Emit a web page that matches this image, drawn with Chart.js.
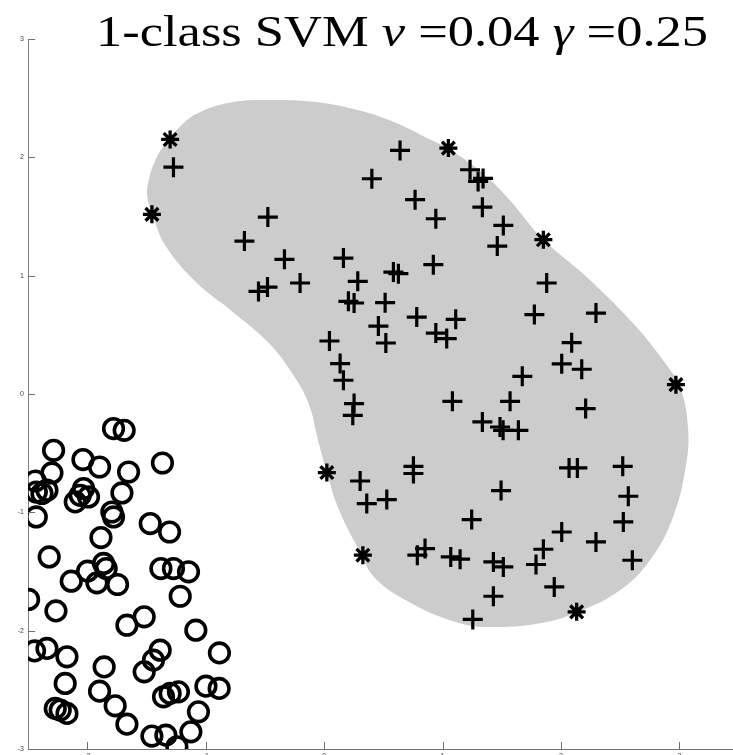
<!DOCTYPE html>
<html>
<head>
<meta charset="utf-8">
<script src="https://cdn.jsdelivr.net/npm/chart.js@4.4.1/dist/chart.umd.min.js"></script>
<style>
  html, body { margin: 0; padding: 0; background: #fff; overflow: hidden; }
  #wrap { position: relative; width: 733px; height: 755px; overflow: hidden; }
  #chart { position: absolute; left: 0; top: 0; }
  #title {
    position: absolute; left: 96px; top: 10px; white-space: nowrap;
    font: 44px/44px "Liberation Serif", "DejaVu Serif", serif; color: #000;
    transform-origin: 0 0;
  }
</style>
</head>
<body>
<div id="wrap">
  <canvas id="chart" width="733" height="770"></canvas>
  <div id="title">1-class SVM <i>ν</i> =0.04 <i>γ</i> =0.25</div>
</div>
<script>
const xTicks = [-2, -1, 0, 1, 2, 3];
const yTicks = [-3, -2, -1, 0, 1, 2, 3];

// training points inside the region (+)
const plusPoints = [
  [-1.272, 1.917], [0.641, 2.058], [0.403, 1.819], [0.768, 1.642], [-0.475, 1.495],
  [-0.673, 1.292], [-0.335, 1.138], [-0.554, 0.867], [-0.478, 0.904], [-0.203, 0.938],
  [0.163, 1.149], [0.284, 0.952], [0.205, 0.783], [0.253, 0.769], [0.585, 1.030],
  [0.627, 1.017], [0.515, 0.772], [0.458, 0.574], [0.521, 0.431], [0.045, 0.448],
  [0.135, 0.257], [0.782, 0.650], [1.232, 1.895], [1.300, 1.796], [1.342, 1.822],
  [1.336, 1.579], [1.513, 1.425], [1.462, 1.250], [0.943, 1.481], [0.922, 1.093],
  [1.879, 0.938], [1.775, 0.671], [2.295, 0.684], [2.090, 0.434], [2.006, 0.255],
  [2.175, 0.209], [1.111, 0.631], [0.943, 0.515], [1.035, 0.468], [1.673, 0.149],
  [0.163, 0.116], [0.253, -0.081], [0.242, -0.180], [1.083, -0.062], [1.570, -0.062],
  [1.336, -0.236], [1.485, -0.279], [1.511, -0.307], [1.640, -0.307], [2.208, -0.123],
  [0.754, -0.611], [0.754, -0.672], [0.304, -0.735], [0.360, -0.926], [0.529, -0.892],
  [1.494, -0.816], [1.246, -1.061], [0.787, -1.362], [0.852, -1.306], [1.069, -1.377],
  [1.148, -1.396], [1.429, -1.419], [1.513, -1.461], [1.429, -1.709], [1.255, -1.905],
  [2.068, -0.625], [2.138, -0.625], [2.521, -0.611], [2.568, -0.864], [2.526, -1.081],
  [2.006, -1.166], [2.295, -1.250], [1.851, -1.312], [1.789, -1.441], [2.602, -1.405],
  [1.943, -1.630]
];

// support vectors (*)
const svPoints = [
  [-1.300, 2.151], [-1.454, 1.518], [1.049, 2.078], [1.851, 1.304],
  [2.970, 0.079], [0.023, -0.664], [0.327, -1.362], [2.132, -1.841]
];

// outliers (o)
const outlierPoints = [
  [-1.778, -0.292], [-1.688, -0.307], [-2.284, -0.476], [-2.036, -0.554], [-1.896, -0.617],
  [-1.365, -0.583], [-1.651, -0.659], [-2.298, -0.667], [-2.439, -0.735], [-2.430, -0.828],
  [-2.382, -0.841], [-2.340, -0.813], [-1.707, -0.836], [-2.031, -0.799], [-1.989, -0.870],
  [-2.059, -0.856], [-2.101, -0.912], [-1.792, -0.997], [-1.778, -1.039], [-2.430, -1.039],
  [-1.468, -1.095], [-1.305, -1.166], [-1.884, -1.213], [-2.321, -1.377], [-1.862, -1.432],
  [-1.840, -1.475], [-1.997, -1.497], [-1.918, -1.596], [-2.135, -1.582], [-1.744, -1.610],
  [-1.378, -1.475], [-1.272, -1.475], [-1.145, -1.503], [-1.215, -1.709], [-2.495, -1.736],
  [-2.264, -1.833], [-1.519, -1.883], [-1.665, -1.954], [-1.083, -1.996], [-2.445, -2.171],
  [-2.340, -2.150], [-2.171, -2.221], [-1.857, -2.306], [-1.384, -2.165], [-1.441, -2.249],
  [-1.519, -2.348], [-0.884, -2.188], [-2.186, -2.446], [-1.896, -2.511], [-1.356, -2.559],
  [-1.300, -2.530], [-1.230, -2.517], [-0.998, -2.469], [-0.886, -2.488], [-2.270, -2.657],
  [-2.228, -2.671], [-2.171, -2.699], [-1.764, -2.635], [-1.665, -2.790], [-1.061, -2.686],
  [-1.454, -2.891], [-1.336, -2.883], [-1.243, -2.981], [-1.125, -2.855]
];

// decision boundary (grey region), traced clockwise
const boundary = [
  [-1.451, 1.518], [-1.494, 1.678], [-1.477, 1.822], [-1.418, 1.991], [-1.325, 2.134],
  [-1.215, 2.261], [-1.072, 2.371], [-0.793, 2.464], [-0.456, 2.485], [-0.118, 2.472],
  [0.194, 2.421], [0.557, 2.312], [0.895, 2.151], [1.046, 2.075], [1.342, 1.864],
  [1.570, 1.636], [1.848, 1.307], [2.219, 0.986], [2.608, 0.597], [2.861, 0.285],
  [3.004, 0.057], [3.072, -0.281], [3.055, -0.602], [2.945, -1.041], [2.751, -1.405],
  [2.498, -1.658], [2.135, -1.844], [1.823, -1.937], [1.401, -1.970], [1.148, -1.937],
  [0.751, -1.776], [0.430, -1.557], [0.304, -1.336], [0.127, -0.982], [0.025, -0.670],
  [-0.051, -0.391], [-0.135, -0.070], [-0.287, 0.200], [-0.473, 0.437], [-0.776, 0.698],
  [-1.072, 0.935], [-1.342, 1.256], [-1.451, 1.518]
];

const toXY = (list) => list.map(([x, y]) => ({ x, y }));

// matlab style tick marks pointing into the axes
const innerTicks = {
  id: 'innerTicks',
  afterDraw(chart) {
    const { ctx, chartArea: a, scales } = chart;
    ctx.save();
    ctx.strokeStyle = '#707070';
    ctx.lineWidth = 1;
    ctx.beginPath();
    xTicks.forEach((v) => {
      const px = Math.round(scales.x.getPixelForValue(v)) + 0.5;
      ctx.moveTo(px, a.bottom);
      ctx.lineTo(px, a.bottom - 7);
    });
    yTicks.forEach((v) => {
      const py = Math.round(scales.y.getPixelForValue(v)) + 0.5;
      ctx.moveTo(a.left, py);
      ctx.lineTo(a.left + 7, py);
    });
    ctx.stroke();
    ctx.restore();
  },
};

const tickFont = { family: 'Liberation Sans, Arial, sans-serif', size: 7 };

new Chart(document.getElementById('chart'), {
  type: 'scatter',
  data: {
    datasets: [
      {
        data: toXY(boundary), showLine: true, fill: 'shape', tension: 0.4,
        backgroundColor: '#cccccc', borderColor: '#cccccc', borderWidth: 0,
        pointRadius: 0, order: 10,
      },
      {
        data: toXY(plusPoints), pointStyle: 'cross', pointRadius: 10,
        borderColor: '#000', borderWidth: 3.2, order: 1,
      },
      {
        data: toXY(svPoints), pointStyle: 'star', pointRadius: 9,
        borderColor: '#000', borderWidth: 3.3, order: 1,
      },
      {
        data: toXY(outlierPoints), pointStyle: 'circle', pointRadius: 9.8,
        borderColor: '#000', backgroundColor: 'rgba(0,0,0,0)', borderWidth: 3.6, order: 1,
      },
    ],
  },
  options: {
    responsive: false,
    animation: false,
    devicePixelRatio: 1,
    layout: { autoPadding: false, padding: { top: 39, left: 0, right: 0, bottom: 0 } },
    plugins: { legend: { display: false }, tooltip: { enabled: false }, title: { display: false } },
    scales: {
      x: {
        type: 'linear', min: -2.5, max: 3.452,
        afterBuildTicks: (s) => { s.ticks = xTicks.map((value) => ({ value })); },
        afterFit: (s) => { s.height = 21; s.paddingLeft = 0; s.paddingRight = 0; },
        grid: { drawOnChartArea: false, drawTicks: false },
        border: { color: '#707070', width: 1 },
        ticks: { padding: 3, font: tickFont, color: '#444', maxRotation: 0 },
      },
      y: {
        type: 'linear', min: -3, max: 3,
        afterBuildTicks: (s) => { s.ticks = yTicks.map((value) => ({ value })); },
        afterFit: (s) => { s.width = 28; },
        grid: { drawOnChartArea: false, drawTicks: false },
        border: { color: '#808080', width: 1 },
        ticks: { padding: 4, font: tickFont, color: '#444' },
      },
    },
  },
  plugins: [innerTicks],
});

// stretch the title to the width of the original (wider TeX font)
const title = document.getElementById('title');
const w = title.getBoundingClientRect().width;
title.style.transform = `scaleX(${612 / w})`;
</script>
</body>
</html>
